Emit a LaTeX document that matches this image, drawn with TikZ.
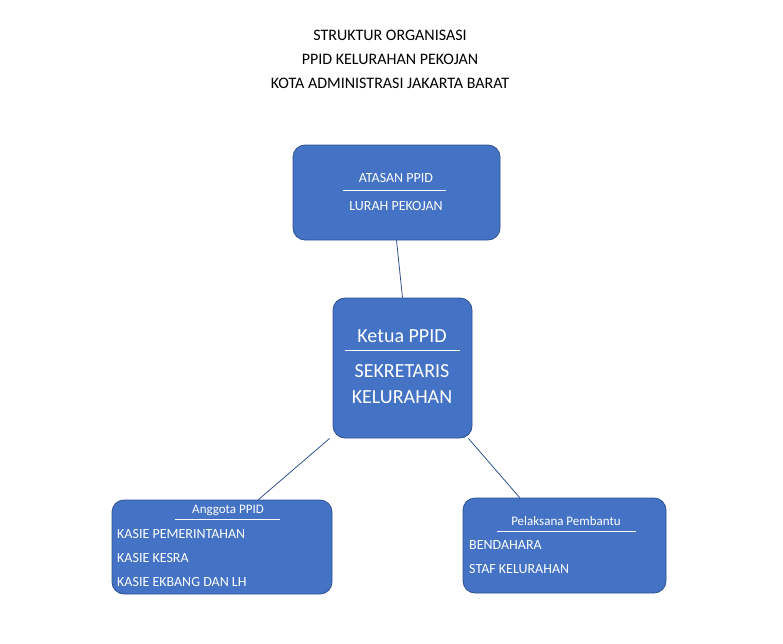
\documentclass[tikz,border=0pt]{standalone}
\usepackage{fontspec}
\setmainfont{Carlito}
\usetikzlibrary{positioning,calc}
\definecolor{boxBlue}{HTML}{4472C4}
\definecolor{boxEdge}{HTML}{2F528F}
\tikzstyle{orgBox} = [rectangle, rounded corners=12pt, draw=boxEdge, fill=boxBlue, line width=0.8pt]
\tikzstyle{boxText} = [text=white, font=\fontsize{14}{16}\selectfont, inner sep=0pt]
\tikzstyle{link} = [draw=boxEdge, line width=0.8pt]

\begin{document}
\begin{tikzpicture}[x=1pt,y=-1pt]
    \useasboundingbox (0,0) rectangle (783,643);
    \node (title) at (390,59) [align=center, font=\fontsize{16}{24}\selectfont] {STRUKTUR ORGANISASI\\PPID KELURAHAN PEKOJAN\\KOTA ADMINISTRASI JAKARTA BARAT};

    \node (atasan) [orgBox, minimum width=207pt, minimum height=95pt] at (396.5,192.5) {};
    \node (atasanT) [boxText] at (396,178) {ATASAN PPID};
    \node (atasanN) [boxText] at (396,206) {LURAH PEKOJAN};
    \draw [white] (343,190) -- (446,190);

    \node (ketua) [orgBox, minimum width=139pt, minimum height=140pt] at (402.5,368) {};
    \node (ketuaT) [boxText, font=\fontsize{20}{22}\selectfont] at (402,336) {Ketua PPID};
    \node (ketuaN) [boxText, font=\fontsize{20}{26}\selectfont, align=center] at (402,384) {SEKRETARIS\\KELURAHAN};
    \draw [white] (345,350) -- (460,350);

    \node (anggota) [orgBox, minimum width=220pt, minimum height=94pt] at (222,547) {};
    \node (anggotaT) [boxText, font=\fontsize{13}{15}\selectfont] at (228,510) {Anggota PPID};
    \node (anggota1) [boxText, anchor=west] at (117,534) {KASIE PEMERINTAHAN};
    \node (anggota2) [boxText, anchor=west] at (117,558) {KASIE KESRA};
    \node (anggota3) [boxText, anchor=west] at (117,582) {KASIE EKBANG DAN LH};
    \draw [white] (175,519) -- (280,519);

    \node (pelaksana) [orgBox, minimum width=203pt, minimum height=95pt] at (564.5,545.5) {};
    \node (pelaksanaT) [boxText, font=\fontsize{13}{15}\selectfont] at (566,521) {Pelaksana Pembantu};
    \node (pelaksana1) [boxText, anchor=west] at (469,545) {BENDAHARA};
    \node (pelaksana2) [boxText, anchor=west] at (469,569) {STAF KELURAHAN};
    \draw [white] (497,531) -- (636,531);

    \coordinate (kL) at ($(ketua.south west)+(-3,0)$);
    \coordinate (kR) at ($(ketua.south east)+(-4,0)$);
    \coordinate (aTop) at (258,500);
    \coordinate (pTop) at (520,498);
    \draw [link] (atasan.south) -- (ketua.north);
    \draw [link] (kL) -- (aTop);
    \draw [link] (kR) -- (pTop);
\end{tikzpicture}
\end{document}
